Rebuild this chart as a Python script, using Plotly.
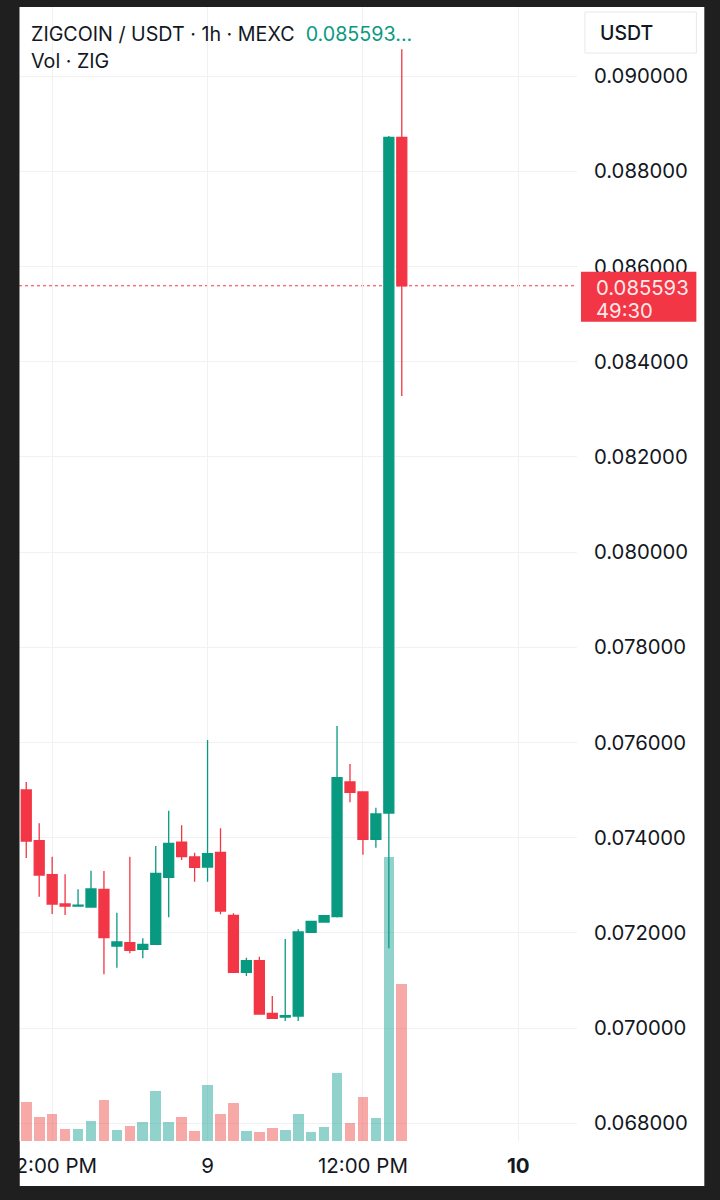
import pandas as pd
import plotly.graph_objects as go

# ---------------- data ----------------
start_time = "2025-07-08 10:00"
opens = [0.075000, 0.073935, 0.073221, 0.072605, 0.072563, 0.072542, 0.072914, 0.071723, 0.071792, 0.071653,
         0.071758, 0.073166, 0.073902, 0.073592, 0.073382, 0.073691, 0.072368, 0.071170, 0.071414, 0.070309,
         0.070231, 0.070252, 0.072011, 0.072227, 0.072338, 0.075168, 0.074958, 0.073964, 0.074517, 0.088712]
highs = [0.075168, 0.074300, 0.073599, 0.073229, 0.072914, 0.073304, 0.073298, 0.072422, 0.073599, 0.071884,
         0.073824, 0.074565, 0.074258, 0.073684, 0.076050, 0.074195, 0.072410, 0.071477, 0.071498, 0.070672,
         0.071870, 0.072073, 0.072242, 0.072359, 0.076345, 0.075546, 0.074958, 0.074628, 0.088739, 0.090561]
lows = [0.073571, 0.072758, 0.072395, 0.072374, 0.072560, 0.072540, 0.071128, 0.071267, 0.071569, 0.071464,
        0.071750, 0.072326, 0.073529, 0.073074, 0.073074, 0.072389, 0.071170, 0.071092, 0.070294, 0.070204,
        0.070147, 0.070147, 0.072011, 0.072227, 0.072320, 0.074742, 0.073641, 0.073788, 0.071674, 0.083277]
closes = [0.073929, 0.073214, 0.072605, 0.072563, 0.072580, 0.072920, 0.071897, 0.071807, 0.071632, 0.071758,
          0.073250, 0.073880, 0.073599, 0.073376, 0.073662, 0.072458, 0.071170, 0.071414, 0.070294, 0.070204,
          0.070258, 0.072017, 0.072242, 0.072359, 0.075258, 0.074952, 0.073964, 0.074496, 0.088712, 0.085593]
volumes = [387, 237, 267, 120, 120, 203, 413, 113, 147, 190,
           497, 190, 237, 100, 563, 270, 383, 100, 87, 130,
           107, 267, 87, 143, 677, 180, 437, 233, 2840, 1570]   # thousand ZIG
x_tick_vals = ["2025-07-08 12:00", "2025-07-09 00:00", "2025-07-09 12:00", "2025-07-10 00:00"]
x_tick_text = ["12:00 PM", "9", "12:00 PM", "<b>10</b>"]
title_text = "ZIGCOIN / USDT · 1h · MEXC"
volume_text = "Vol · ZIG"
currency_text = "USDT"
countdown_text = "49:30"

times = pd.date_range(start_time, periods=len(opens), freq="h")

# ---------------- style ----------------
GREEN = "#089981"
RED = "#f23645"
VOL_GREEN = "rgba(38,166,154,0.5)"
VOL_RED = "rgba(239,83,80,0.5)"
GRID = "#f0f1f4"
TEXT = "#131722"
DARK = "#1f1f1f"
FONT = "Inter"
AXIS_SIZE = 20.3

W, H = 720, 1200
PL, PR, PT, PB = 16, 577, 7, 1141          # plot area in pixels


def xp(px):
    return (px - PL) / (PR - PL)


def yp(py):
    return (PB - py) / (PB - PT)


# price scale: 0.090 at y=76, 95.2 px per 0.002
PXU = 95.2 / 0.002
price_range = [0.09 - (PB - 76) / PXU, 0.09 + (76 - PT) / PXU]
vol_range = [0, (PB - PT) * 10]
x_range = [str(times[0] - pd.Timedelta(hours=0.56)), str(times[0] + pd.Timedelta(hours=42.53))]

vol_colors = [VOL_GREEN if c >= o else VOL_RED for o, c in zip(opens, closes)]

fig = go.Figure()
fig.add_trace(go.Bar(
    x=times, y=volumes, marker_color=vol_colors, marker_line_width=0,
    width=0.82 * 3600 * 1000, yaxis="y", hoverinfo="skip",
))
fig.add_trace(go.Candlestick(
    x=times, open=opens, high=highs, low=lows, close=closes, yaxis="y2",
    increasing=dict(line=dict(color=GREEN, width=1.3), fillcolor=GREEN),
    decreasing=dict(line=dict(color=RED, width=1.3), fillcolor=RED),
    whiskerwidth=0, hoverinfo="skip",
))

last = closes[-1]

shapes = [
    dict(type="rect", xref="paper", yref="paper", x0=xp(16.5), x1=xp(705), y0=yp(1186), y1=yp(PT),
         fillcolor="white", line_width=0, layer="below"),
    dict(type="line", xref="paper", yref="y2", x0=0, x1=1, y0=last, y1=last,
         line=dict(color=RED, width=1, dash="dot"), layer="below"),
    dict(type="rect", xref="paper", yref="y2", ysizemode="pixel", yanchor=last,
         x0=xp(581), x1=xp(697), y0=-36, y1=14, fillcolor=RED, line_width=0, layer="above"),
    dict(type="rect", xref="paper", yref="paper", x0=xp(585), x1=xp(697), y0=yp(53), y1=yp(12),
         fillcolor="white", line=dict(color="#e6e8ee", width=1), layer="above"),
    # dark screenshot border on the left, cropping the first time label
    dict(type="rect", xref="paper", yref="paper", x0=xp(0), x1=xp(16.5), y0=yp(H), y1=yp(0),
         fillcolor=DARK, line_width=0, layer="above"),
]

annotations = [
    dict(xref="paper", yref="paper", x=xp(26), y=yp(34), xanchor="left", yanchor="middle", showarrow=False,
         text=f"{title_text}&nbsp;&nbsp;<span style='color:{GREEN}'>{last:.6f}...</span>",
         font=dict(family=FONT, size=19.7, color=TEXT)),
    dict(xref="paper", yref="paper", x=xp(26), y=yp(61), xanchor="left", yanchor="middle", showarrow=False,
         text=volume_text, font=dict(family=FONT, size=19.7, color=TEXT)),
    dict(xref="paper", yref="paper", x=xp(598), y=yp(33), xanchor="left", yanchor="middle", showarrow=False,
         text=currency_text, font=dict(family=FONT, size=19.5, color=TEXT, weight=500)),
    dict(xref="paper", yref="y2", x=xp(594), y=last, yshift=-2, xanchor="left", yanchor="middle",
         showarrow=False, text=f"{last:.6f}", font=dict(family=FONT, size=AXIS_SIZE, color="#ffe8e9")),
    dict(xref="paper", yref="y2", x=xp(594), y=last, yshift=-25, xanchor="left", yanchor="middle",
         showarrow=False, text=countdown_text, font=dict(family=FONT, size=AXIS_SIZE, color="#ffe8e9")),
]

fig.update_layout(
    width=W, height=H,
    margin=dict(l=PL, r=W - PR, t=PT, b=H - PB, pad=0),
    paper_bgcolor=DARK, plot_bgcolor="white",
    showlegend=False, boxgap=0.23, boxgroupgap=0, bargap=0,
    font=dict(family=FONT, color=TEXT),
    xaxis=dict(type="date", range=x_range, tickmode="array", tickvals=x_tick_vals, ticktext=x_tick_text,
               showgrid=True, gridcolor=GRID, gridwidth=1, zeroline=False, showline=False, ticks="",
               ticklabelstandoff=10, tickfont=dict(family=FONT, size=20.5, color=TEXT),
               rangeslider=dict(visible=False), fixedrange=True),
    yaxis=dict(range=vol_range, visible=False, showgrid=False, fixedrange=True),
    yaxis2=dict(overlaying="y", side="right", range=price_range, dtick=0.002, tick0=0, tickformat=".6f",
                showgrid=True, gridcolor=GRID, gridwidth=1, ticks="", ticklabelstandoff=16,
                zeroline=False, showline=False, tickfont=dict(family=FONT, size=AXIS_SIZE, color=TEXT),
                fixedrange=True),
    shapes=shapes, annotations=annotations,
)

fig.write_html(
    "out.html",
    config={"displayModeBar": False, "staticPlot": True},
    post_script="document.body.style.margin='0';document.body.style.background='#1f1f1f';",
)
